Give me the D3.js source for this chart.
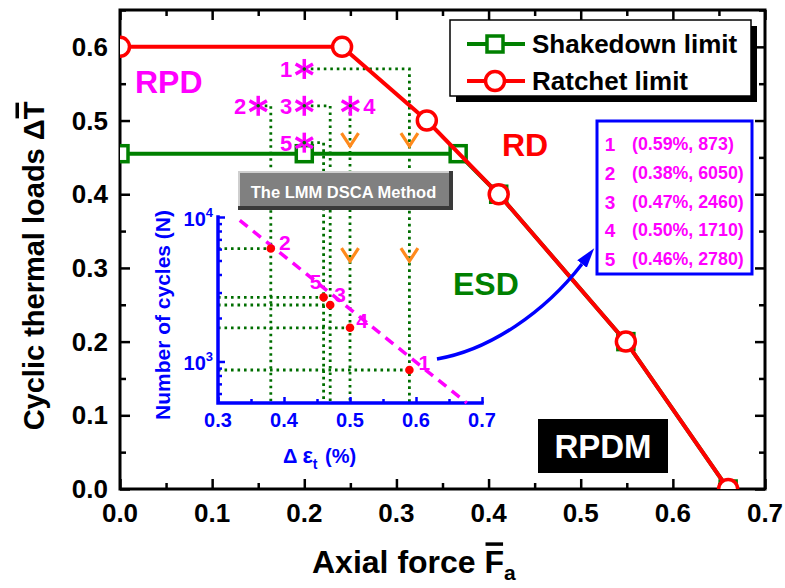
<!DOCTYPE html>
<html><head><meta charset="utf-8">
<script src="https://cdn.jsdelivr.net/npm/d3@7"></script>
<style>
body{margin:0;background:#fff}
svg{display:block}
text{font-family:Arial,"Liberation Sans",sans-serif;font-weight:bold}
</style>
</head><body>
<svg id="c" width="785" height="588"></svg>
<script>
// ---------------- data ----------------
const ratchetF   = [0, 0.241, 0.333, 0.411, 0.549, 0.660];
const ratchetT   = [0.6, 0.6, 0.5, 0.4, 0.2, 0.0];
const shakedownF = [0, 0.200, 0.367, 0.411, 0.549, 0.660];
const shakedownT = [0.455, 0.455, 0.455, 0.4, 0.2, 0.0];

const pointIds  = [1, 2, 3, 4, 5];
const loadF     = [0.20, 0.15, 0.20, 0.25, 0.20];   // asterisk positions (main axes)
const loadT     = [0.57, 0.52, 0.52, 0.52, 0.47];
const strainPct = [0.59, 0.38, 0.47, 0.50, 0.46];   // inset x
const cycles    = [873, 6050, 2460, 1710, 2780];    // inset y

const fitStrain = [0.333, 0.677];
const fitCycles = [9480, 516];

const vStrain = [0.50, 0.59, 0.50, 0.59];           // orange direction marks
const vLoadT  = [0.474, 0.474, 0.318, 0.318];

const arrowF = [0.3440, 0.4016, 0.4612, 0.5014];    // blue arrow (bezier, main axes)
const arrowT = [0.1764, 0.1886, 0.2402, 0.3053];

const mainXMajor = [0, 0.1, 0.2, 0.3, 0.4, 0.5, 0.6, 0.7];
const mainXMinor = [0.05, 0.15, 0.25, 0.35, 0.45, 0.55, 0.65];
const mainYMajor = [0, 0.1, 0.2, 0.3, 0.4, 0.5, 0.6];
const mainYMinor = [0.05, 0.15, 0.25, 0.35, 0.45, 0.55, 0.65];
const insetXMajor = [0.3, 0.4, 0.5, 0.6, 0.7];
const insetXMinor = [0.35, 0.45, 0.55, 0.65];
const insetYMajor = [1000, 10000];
const insetYMinor = [600, 700, 800, 900, 2000, 3000, 4000, 5000, 6000, 7000, 8000, 9000];

const legendNames = ["Shakedown limit", "Ratchet limit"];

// ---------------- layout ----------------
const L = 120, R = 765, T = 10, B = 489;
const IL = 218, IR = 482, IT = 217, IB = 403;
const GREEN = "#008000", DOTG = "#006e00", RED = "#ff0000", MAG = "#ff00ff", BLUE = "#0000ff", ORANGE = "#ff8a1c";

const x = d3.scaleLinear([0, 0.7], [L, R]);
const y = d3.scaleLinear([0, 0.65], [B, T]);
const ix = d3.scaleLinear([0.3, 0.7], [IL, IR]);
const iy = d3.scaleLog([516, 10000], [IB, IT]);

const svg = d3.select("#c");
const defs = svg.append("defs");
defs.append("clipPath").attr("id", "plotclip").append("rect")
  .attr("x", L).attr("y", T).attr("width", R - L).attr("height", B - T);
defs.append("marker").attr("id", "ah").attr("markerUnits", "userSpaceOnUse")
  .attr("markerWidth", 24).attr("markerHeight", 16).attr("refX", 0).attr("refY", 6)
  .attr("orient", "auto").attr("viewBox", "0 0 24 12")
  .append("path").attr("d", "M0,0 L20,6 L0,12 Z").attr("fill", BLUE);

// ---------------- main axes ----------------
function ticks(axis, vals, size, tr) {
  const g = svg.append("g").attr("transform", tr)
    .call(axis.tickValues(vals).tickSize(-size).tickFormat(""));
  g.select(".domain").remove();
  g.selectAll("line").attr("stroke", "#000").attr("stroke-width", 2.5);
}
ticks(d3.axisBottom(x), mainXMajor, 10, `translate(0,${B})`);
ticks(d3.axisBottom(x), mainXMinor, 6, `translate(0,${B})`);
ticks(d3.axisTop(x), mainXMajor, 10, `translate(0,${T})`);
ticks(d3.axisTop(x), mainXMinor, 6, `translate(0,${T})`);
ticks(d3.axisLeft(y), mainYMajor, 10, `translate(${L},0)`);
ticks(d3.axisLeft(y), mainYMinor, 6, `translate(${L},0)`);
ticks(d3.axisRight(y), mainYMajor, 10, `translate(${R},0)`);
ticks(d3.axisRight(y), mainYMinor, 6, `translate(${R},0)`);
svg.append("rect").attr("x", L).attr("y", T).attr("width", R - L).attr("height", B - T)
  .attr("fill", "none").attr("stroke", "#000").attr("stroke-width", 3);

const fmt = d3.format(".1f");
svg.append("g").selectAll("text").data(mainXMajor).join("text")
  .attr("x", d => x(d)).attr("y", B + 33).attr("text-anchor", "middle")
  .attr("font-size", 26).text(fmt);
svg.append("g").selectAll("text").data(mainYMajor).join("text")
  .attr("x", L - 12).attr("y", d => y(d) + 9).attr("text-anchor", "end")
  .attr("font-size", 26).text(fmt);

// axis titles with overbars
function overbar(g, textNode, idx, fs) {
  const e = textNode.getExtentOfChar(idx);
  g.append("line").attr("x1", e.x + 1).attr("x2", e.x + e.width - 1)
    .attr("y1", -fs * 0.716 - 6).attr("y2", -fs * 0.716 - 6)
    .attr("stroke", "#000").attr("stroke-width", 3.5);
}
{
  const g = svg.append("g").attr("transform", "translate(44,266) rotate(-90)");
  const s = "Cyclic thermal loads \u0394T";
  const t = g.append("text").attr("text-anchor", "middle").attr("font-size", 29).text(s);
  overbar(g, t.node(), s.length - 1, 29);
}
{
  const g = svg.append("g").attr("transform", "translate(312,573)");
  const t = g.append("text").attr("font-size", 32);
  t.append("tspan").text("Axial force F");
  t.append("tspan").attr("dy", 7).attr("font-size", 21).text("a");
  overbar(g, t.node(), 12, 32);
}

// ---------------- dotted connectors ----------------
const dotted = svg.append("g").attr("fill", "none").attr("stroke", DOTG)
  .attr("stroke-width", 2.8).attr("stroke-dasharray", "2.6,3.9");
pointIds.forEach((id, i) => {
  dotted.append("path").attr("d", d3.line()([
    [x(loadF[i]), y(loadT[i])], [ix(strainPct[i]), y(loadT[i])], [ix(strainPct[i]), IB]
  ]));
  dotted.append("path").attr("d", d3.line()([
    [IL, iy(cycles[i])], [ix(strainPct[i]), iy(cycles[i])]
  ]));
});

// ---------------- inset axes ----------------
function iticks(axis, vals, size, tr) {
  const g = svg.append("g").attr("transform", tr)
    .call(axis.tickValues(vals).tickSize(-size).tickFormat(""));
  g.select(".domain").remove();
  g.selectAll("line").attr("stroke", BLUE).attr("stroke-width", 2.5);
}
iticks(d3.axisLeft(iy), insetYMajor, 7, `translate(${IL},0)`);
iticks(d3.axisLeft(iy), insetYMinor, 4, `translate(${IL},0)`);
iticks(d3.axisBottom(ix), insetXMajor, 6, `translate(0,${IB})`);
iticks(d3.axisBottom(ix), insetXMinor, 4, `translate(0,${IB})`);
svg.append("path").attr("d", `M${IL},${IT}V${IB}H${IR}`).attr("fill", "none")
  .attr("stroke", BLUE).attr("stroke-width", 3.5).attr("stroke-linecap", "square");

svg.append("g").selectAll("text").data(insetXMajor).join("text")
  .attr("x", d => ix(d)).attr("y", IB + 24).attr("text-anchor", "middle")
  .attr("fill", BLUE).attr("font-size", 20).text(fmt);
svg.append("g").selectAll("text").data(insetYMajor).join("text")
  .attr("x", IL - 5).attr("y", d => iy(d) + 9).attr("text-anchor", "end")
  .attr("fill", BLUE).attr("font-size", 20)
  .each(function (d) {
    const t = d3.select(this);
    t.append("tspan").text("10");
    t.append("tspan").attr("dy", -9).attr("font-size", 13).text(String(Math.round(Math.log10(d))));
  });
svg.append("text").attr("transform", "translate(170,315) rotate(-90)")
  .attr("text-anchor", "middle").attr("fill", BLUE).attr("font-size", 21)
  .text("Number of cycles (N)");
{
  const t = svg.append("text").attr("x", 283).attr("y", 463).attr("fill", BLUE).attr("font-size", 20);
  t.append("tspan").text("\u0394");
  t.append("tspan").attr("dx", 5).attr("font-size", 22).text("\u03b5");
  t.append("tspan").attr("dy", 6).attr("font-size", 14).text("t");
  t.append("tspan").attr("dy", -6).attr("dx", 2).text(" (%)");
}

// ---------------- limit curves ----------------
const plot = svg.append("g").attr("clip-path", "url(#plotclip)");
const idx = d3.range(ratchetF.length);
plot.append("path").attr("d", d3.line().x(i => x(shakedownF[i])).y(i => y(shakedownT[i]))(idx))
  .attr("fill", "none").attr("stroke", GREEN).attr("stroke-width", 4);
plot.selectAll(".sq").data(idx).join("rect")
  .attr("x", i => x(shakedownF[i]) - 8).attr("y", i => y(shakedownT[i]) - 8)
  .attr("width", 16).attr("height", 16).attr("fill", "#fff")
  .attr("stroke", GREEN).attr("stroke-width", 3.5);
plot.append("path").attr("d", d3.line().x(i => x(ratchetF[i])).y(i => y(ratchetT[i]))(idx))
  .attr("fill", "none").attr("stroke", RED).attr("stroke-width", 4);
plot.selectAll(".ci").data(idx).join("circle")
  .attr("cx", i => x(ratchetF[i])).attr("cy", i => y(ratchetT[i])).attr("r", 9.5)
  .attr("fill", "#fff").attr("stroke", RED).attr("stroke-width", 3.5);

// ---------------- asterisks + labels ----------------
const star = svg.append("g");
pointIds.forEach((id, i) => {
  const cx = x(loadF[i]), cy = y(loadT[i]);
  const g = star.append("g").attr("transform", `translate(${cx},${cy})`);
  [90, 30, 150].forEach(a => {
    const r = 10, dx = r * Math.cos(a * Math.PI / 180), dy = r * Math.sin(a * Math.PI / 180);
    g.append("line").attr("x1", -dx).attr("y1", -dy).attr("x2", dx).attr("y2", dy)
      .attr("stroke", MAG).attr("stroke-width", 3.5);
  });
  g.append("circle").attr("r", 1.8).attr("fill", DOTG);
  const right = id === 4;
  star.append("text").attr("x", right ? cx + 13 : cx - 12).attr("y", cy + 8)
    .attr("text-anchor", right ? "start" : "end").attr("fill", MAG).attr("font-size", 22).text(id);
});

// orange V marks
svg.append("g").selectAll("path").data(vStrain).join("path")
  .attr("d", (d, i) => `M${ix(d) - 8.5},${y(vLoadT[i]) - 6.5}L${ix(d)},${y(vLoadT[i]) + 6.5}L${ix(d) + 8.5},${y(vLoadT[i]) - 6.5}`)
  .attr("fill", "none").attr("stroke", ORANGE).attr("stroke-width", 3.2);

// fit line and fatigue points
svg.append("path").attr("d", d3.line()(fitStrain.map((s, i) => [ix(s), iy(fitCycles[i])])))
  .attr("stroke", MAG).attr("stroke-width", 3.5).attr("stroke-dasharray", "10,7").attr("fill", "none");
svg.append("g").selectAll("circle").data(pointIds).join("circle")
  .attr("cx", (d, i) => ix(strainPct[i])).attr("cy", (d, i) => iy(cycles[i])).attr("r", 4.3).attr("fill", RED);
const insetLabelOffset = [[15, -8], [14, -6], [10, -10], [12, -7], [-8, -16]];
svg.append("g").selectAll("text").data(pointIds).join("text")
  .attr("x", (d, i) => ix(strainPct[i]) + insetLabelOffset[i][0])
  .attr("y", (d, i) => iy(cycles[i]) + insetLabelOffset[i][1] + 7.5)
  .attr("text-anchor", "middle").attr("fill", MAG).attr("font-size", 21).text(d => d);

// ---------------- "The LMM DSCA Method" button ----------------
{
  const x0 = 238, y0 = 171, x1 = 453, y1 = 210;
  svg.append("rect").attr("x", x0).attr("y", y0).attr("width", x1 - x0).attr("height", y1 - y0).attr("fill", "#3a3a3a");
  svg.append("rect").attr("x", x0).attr("y", y0).attr("width", x1 - x0 - 4).attr("height", y1 - y0 - 4).attr("fill", "#cfcfcf");
  svg.append("rect").attr("x", x0 + 2).attr("y", y0 + 2).attr("width", x1 - x0 - 6).attr("height", y1 - y0 - 6).attr("fill", "#808080");
  svg.append("text").attr("x", (x0 + x1 - 4) / 2).attr("y", 198).attr("text-anchor", "middle")
    .attr("fill", "#fff").attr("font-size", 16.5).text("The LMM DSCA Method");
}

// ---------------- blue arrow ----------------
{
  const p = d3.path();
  p.moveTo(x(arrowF[0]), y(arrowT[0]));
  p.bezierCurveTo(x(arrowF[1]), y(arrowT[1]), x(arrowF[2]), y(arrowT[2]), x(arrowF[3]), y(arrowT[3]));
  svg.append("path").attr("d", p.toString()).attr("fill", "none").attr("stroke", BLUE)
    .attr("stroke-width", 3.5).attr("marker-end", "url(#ah)");
}

// ---------------- info box ----------------
{
  svg.append("rect").attr("x", 597).attr("y", 121).attr("width", 155).attr("height", 153)
    .attr("fill", "#fff").attr("stroke", BLUE).attr("stroke-width", 3);
  pointIds.forEach((id, i) => {
    const yy = 143 + i * 28.8 + 7;
    svg.append("text").attr("x", 610).attr("y", yy + 1).attr("text-anchor", "middle")
      .attr("fill", MAG).attr("font-size", 19).text(id);
    svg.append("text").attr("x", 632).attr("y", yy).attr("fill", MAG).attr("font-size", 17.8)
      .text(`(${strainPct[i].toFixed(2)}%, ${cycles[i]})`);
  });
}

// ---------------- legend ----------------
{
  const lx = 450, ly = 20, lw = 301, lh = 76;
  svg.append("rect").attr("x", lx + 6).attr("y", ly + 6).attr("width", lw).attr("height", lh).attr("fill", "#000");
  svg.append("rect").attr("x", lx).attr("y", ly).attr("width", lw).attr("height", lh)
    .attr("fill", "#fff").attr("stroke", "#000").attr("stroke-width", 1.5);
  const rows = [44, 81];
  const cols = [GREEN, RED];
  legendNames.forEach((n, i) => {
    const ry = rows[i];
    svg.append("line").attr("x1", 467).attr("x2", 525).attr("y1", ry).attr("y2", ry)
      .attr("stroke", cols[i]).attr("stroke-width", 4);
    if (i === 0) svg.append("rect").attr("x", 487).attr("y", ry - 8).attr("width", 16).attr("height", 16)
      .attr("fill", "#fff").attr("stroke", GREEN).attr("stroke-width", 3.5);
    else svg.append("circle").attr("cx", 495).attr("cy", ry).attr("r", 9.5)
      .attr("fill", "#fff").attr("stroke", RED).attr("stroke-width", 3.5);
    svg.append("text").attr("x", 532).attr("y", ry + 9).attr("font-size", 26).text(n);
  });
}

// ---------------- region labels ----------------
svg.append("text").attr("x", 135).attr("y", 93).attr("fill", MAG).attr("font-size", 32).text("RPD");
svg.append("text").attr("x", 502).attr("y", 156).attr("fill", RED).attr("font-size", 32).text("RD");
svg.append("text").attr("x", 453).attr("y", 295).attr("fill", GREEN).attr("font-size", 32).text("ESD");
svg.append("rect").attr("x", 538).attr("y", 419).attr("width", 130).attr("height", 54).attr("fill", "#000");
svg.append("text").attr("x", 603).attr("y", 458).attr("text-anchor", "middle").attr("fill", "#fff")
  .attr("font-size", 33).text("RPDM");
</script>
</body></html>
